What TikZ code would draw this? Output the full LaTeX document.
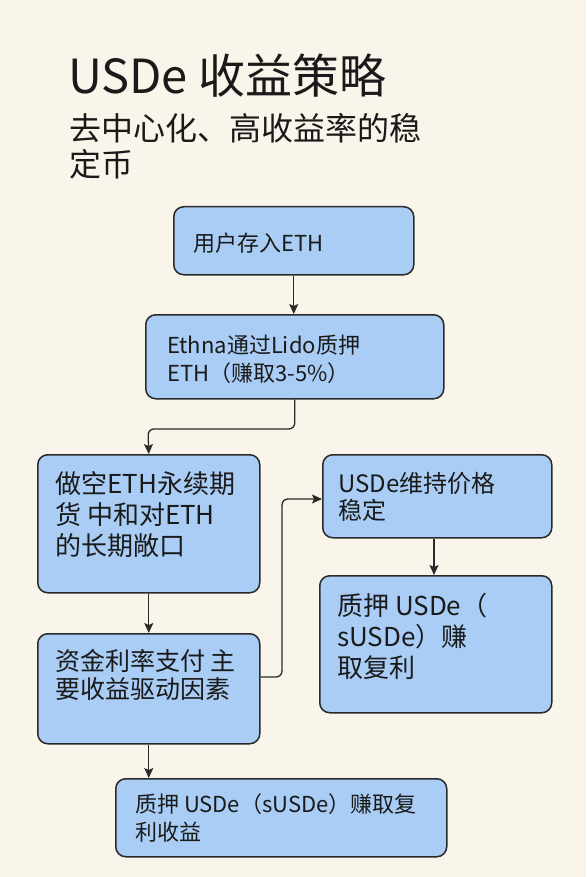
\documentclass[tikz,border=0pt]{standalone}
\usepackage{fontspec}
\setmainfont{Noto Sans CJK SC}
\usetikzlibrary{arrows.meta,calc}
\definecolor{bgc}{HTML}{FAF5EB}
\definecolor{boxc}{HTML}{A9CDF4}
\definecolor{edgec}{HTML}{2A2A2A}
\definecolor{txtc}{HTML}{1A1A1A}
\tikzset{
  box/.style={draw=edgec, fill=boxc, line width=1.5pt, rounded corners=10pt, inner sep=0pt},
  lbl/.style={anchor=north west, inner sep=0pt, align=left, text=txtc},
  fsz/.style n args={2}{font={\fontsize{#1}{#2}\selectfont}},
  arr/.style={draw=edgec, line width=1.3pt, rounded corners=6pt, -{Stealth[length=10pt,width=9pt,inset=2pt]}}
}
\newcommand{\st}[1]{\rule{0pt}{#1pt}}
\begin{document}
\begin{tikzpicture}[x=1pt,y=-1pt]
\fill[bgc] (0,0) rectangle (586,877);
\useasboundingbox (0,0) rectangle (586,877);
% title
\node[lbl, fsz={47}{56}] (title) at (68,46) {\st{47}USDe 收益策略};
\node[lbl, fsz={32}{36}] (sub) at (69,108) {\st{32}去中心化、高收益率的稳\\定币};
% boxes
\node[box, anchor=north west, minimum width=240pt, minimum height=68pt] (b1) at (173,206) {};
\node[box, anchor=north west, minimum width=298pt, minimum height=84pt] (b2) at (145,314) {};
\node[box, anchor=north west, minimum width=222pt, minimum height=138pt] (b3) at (37,454) {};
\node[box, anchor=north west, minimum width=222pt, minimum height=110pt] (b4) at (37,633) {};
\node[box, anchor=north west, minimum width=229pt, minimum height=83pt] (b5) at (322,454) {};
\node[box, anchor=north west, minimum width=232pt, minimum height=137pt] (b6) at (319,575) {};
\node[box, anchor=north west, minimum width=331pt, minimum height=78pt] (b7) at (115,778) {};
% texts
\node[lbl, fsz={22}{28}] (t1) at (193,229) {\st{22}用户存入ETH};
\node[lbl, fsz={22}{28}] (t2) at (167,331) {\st{22}Ethna通过Lido质押\\ETH（赚取3-5\%）};
\node[lbl, fsz={26}{31}] (t3) at (55,467) {\st{26}做空ETH永续期\\货 中和对ETH\\的长期敞口};
\node[lbl, fsz={25}{28}] (t4) at (55,645) {\st{25}资金利率支付 主\\要收益驱动因素};
\node[lbl, fsz={24}{27}] (t5) at (338,468) {\st{24}USDe维持价格\\稳定};
\node[lbl, fsz={26}{31}] (t6) at (337,589) {\st{26}质押 USDe（\\sUSDe）赚\\取复利};
\node[lbl, fsz={22}{28}] (t7) at (135,790) {\st{22}质押 USDe（sUSDe）赚取复\\利收益};
% connectors
\coordinate (j1) at (148,429);
\coordinate (j2) at (282,677);
\coordinate (j3) at (282,499);
\draw[arr] (b1.south) -- (b2.north -| b1.south);
\draw[arr] (b2.south) |- (j1) -- (b3.north);
\draw[arr] (b3.south) -- (b4.north);
\draw[arr] (j2 -| b4.east) -- (j2) -- (j3) -- (j3 -| b5.west);
\draw[arr] (b5.south -| 434,0) -- (b6.north -| 434,0);
\draw[arr] (b4.south) -- (b7.north -| b4.south);
\end{tikzpicture}
\end{document}
